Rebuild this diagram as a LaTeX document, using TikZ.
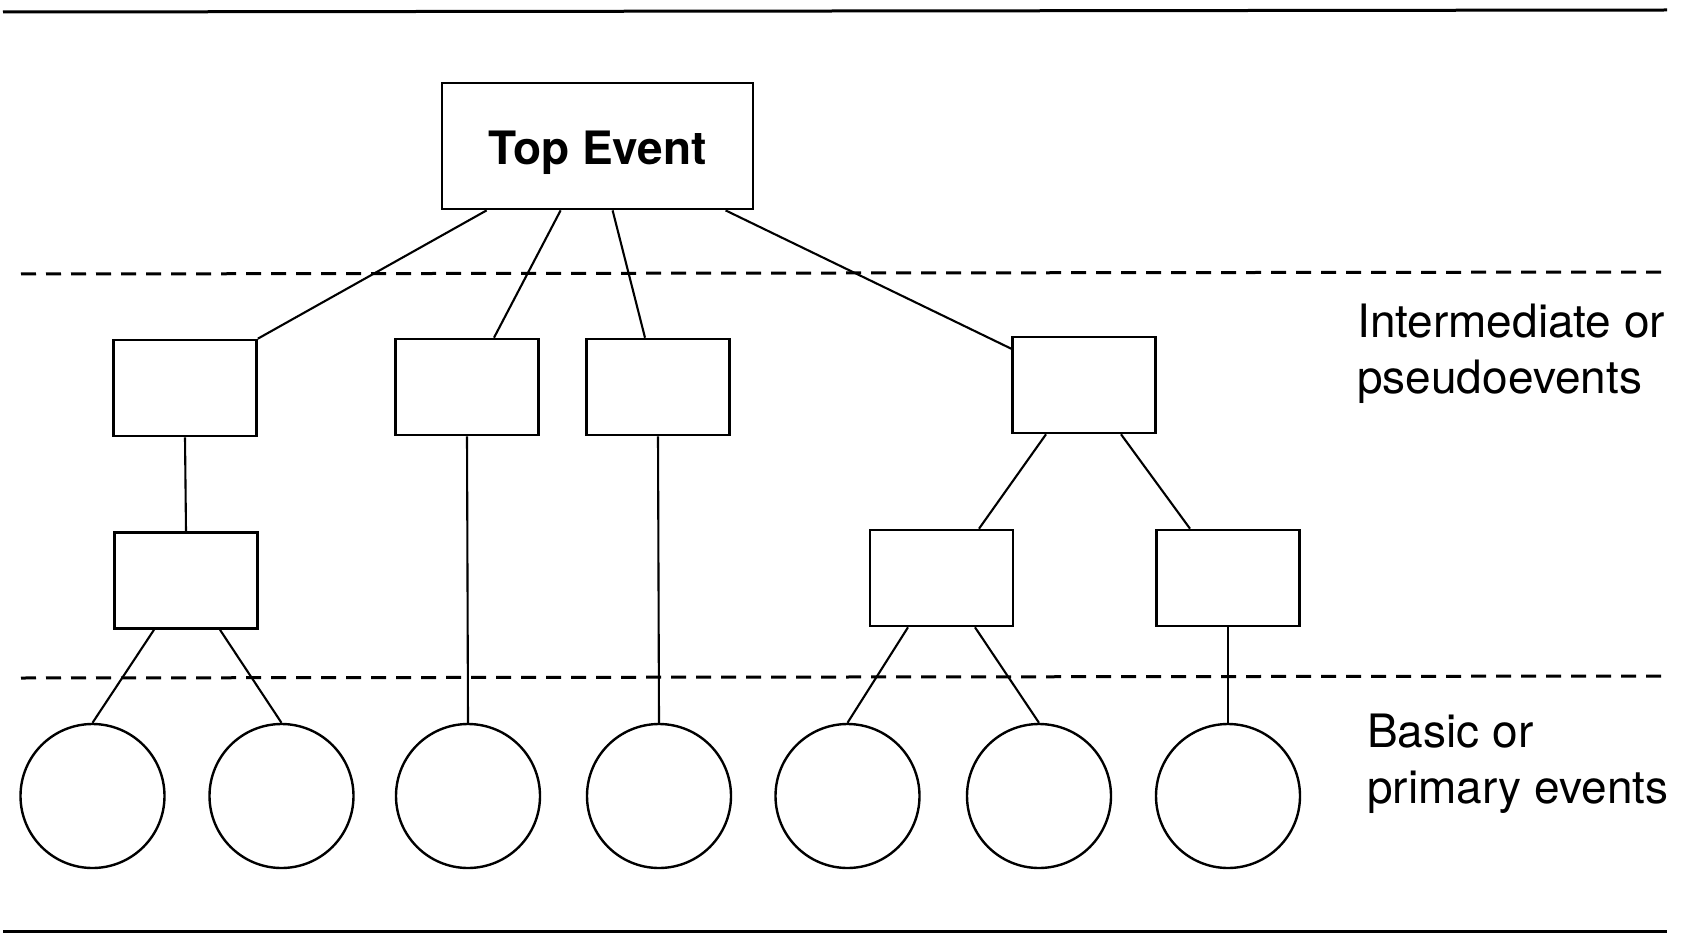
\documentclass[tikz,border=0pt]{standalone}
\usepackage{fontspec}
\setmainfont{TeX Gyre Heros}
\usetikzlibrary{calc}
\begin{document}
\begin{tikzpicture}[x=1pt,y=-1pt,
  evbox/.style={draw,line width=2.6pt,minimum width=143pt,minimum height=96pt,inner sep=0pt},
  basic/.style={draw,circle,line width=2.4pt,minimum size=144pt,inner sep=0pt},
  link/.style={line width=2.1pt},
  rule/.style={line width=3pt},
  level/.style={line width=3pt,dash pattern=on 15pt off 10pt},
  lbl/.style={anchor=base west,inner sep=0pt,font=\fontsize{46}{56}\selectfont}]
\useasboundingbox (0,0) rectangle (1683,933);
% rules
\coordinate (rl1) at (3,12);
\coordinate (rr1) at (1667,10);
\coordinate (rl2) at (3,931);
\coordinate (rr2) at (1667,931);
\draw[rule] (rl1) -- (rr1);
\draw[rule] (rl2) -- (rr2);
% level separators
\coordinate (dl1) at (21,274);
\coordinate (dr1) at (1667,272);
\coordinate (dl2) at (21,678);
\coordinate (dr2) at (1667,676);
\draw[level] (dl1) -- (dr1);
\draw[level] (dl2) -- (dr2);
% top event
\node[draw,line width=2.8pt,minimum width=311pt,minimum height=126pt,inner sep=0pt,
  text height=38pt,text depth=0pt,font=\bfseries\fontsize{46}{56}\selectfont] (top) at (597.5,146) {Top Event};
% intermediate events
\node[evbox] (b1) at (185,388) {};
\node[evbox] (b2) at (467,387) {};
\node[evbox] (b3) at (658,387) {};
\node[evbox] (b4) at (1084,385) {};
\node[evbox] (b5) at (186,580.5) {};
\node[evbox] (b6) at (941.5,578) {};
\node[evbox] (b7) at (1228,578) {};
% basic events
\node[basic] (c1) at (92.5,796) {};
\node[basic] (c2) at (281.5,796) {};
\node[basic] (c3) at (468,796) {};
\node[basic] (c4) at (659,796) {};
\node[basic] (c5) at (847.5,796) {};
\node[basic] (c6) at (1039,796) {};
\node[basic] (c7) at (1228,796) {};
% connectors
\draw[link] ($(top.south west)+(46,0)$) -- (b1.north east);
\draw[link] ($(top.south west)+(120,0)$) -- ($(b2.north)+(27,0)$);
\draw[link] ($(top.south west)+(172,0)$) -- ($(b3.north)+(-13,0)$);
\draw[link] ($(top.south west)+(285,0)$) -- ($(b4.north west)+(0,13)$);
\draw[link] (b1.south) -- (b5.north);
\draw[link] (b2.south) -- (c3.north);
\draw[link] (b3.south) -- (c4.north);
\draw[link] ($(b4.south)+(-38,0)$) -- ($(b6.north)+(37.5,0)$);
\draw[link] ($(b4.south)+(37,0)$) -- ($(b7.north)+(-38,0)$);
\draw[link] ($(b5.south)+(-32,0)$) -- (c1.north);
\draw[link] ($(b5.south)+(34,0)$) -- (c2.north);
\draw[link] ($(b6.south)+(-33.5,0)$) -- (c5.north);
\draw[link] ($(b6.south)+(33.5,0)$) -- (c6.north);
\draw[link] (b7.south) -- (c7.north);
% labels
\node[lbl] (li1) at (1357,337) {Intermediate or};
\node[lbl] (li2) at (1357,393) {pseudoevents};
\node[lbl] (lp1) at (1367,747) {Basic or};
\node[lbl] (lp2) at (1367,803) {primary events};
\end{tikzpicture}
\end{document}
